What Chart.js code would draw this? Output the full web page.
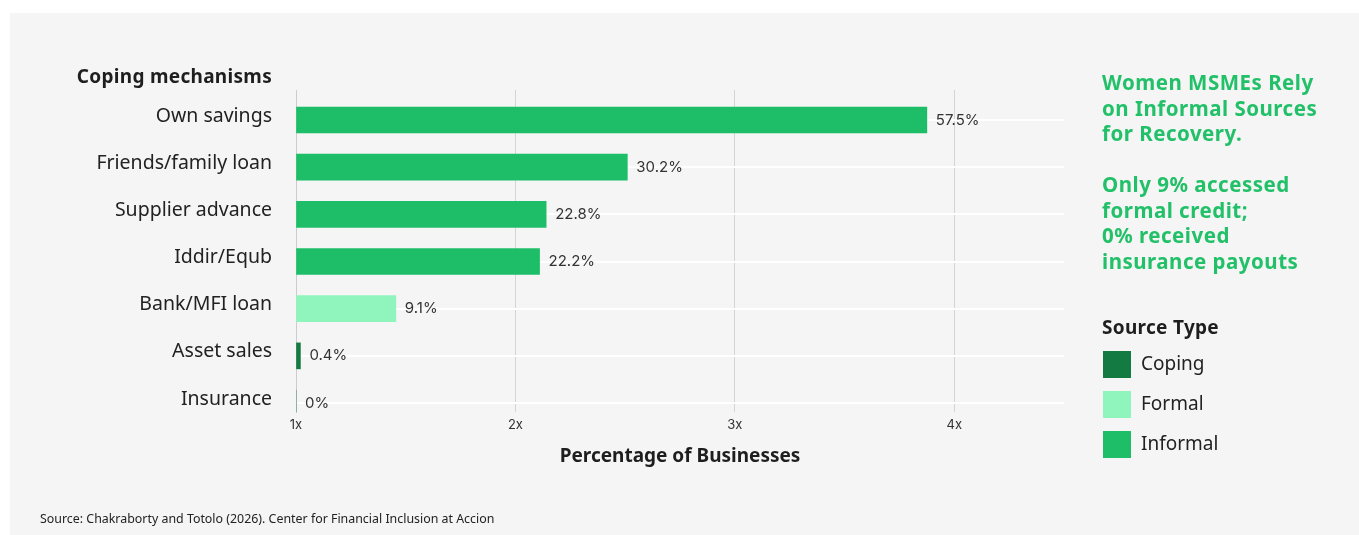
<!DOCTYPE html>
<html>
<head>
<meta charset="utf-8">
<script src="https://cdn.jsdelivr.net/npm/chart.js@4.4.1/dist/chart.umd.min.js"></script>
<style>
  html, body { margin: 0; padding: 0; background: #ffffff; }
  body { width: 1359px; height: 535px; position: relative; overflow: hidden; font-family: "Noto Sans", sans-serif; }
  #panel { position: absolute; left: 10px; top: 13px; width: 1349px; height: 522px; background: #f5f5f5; }
  #chart { position: absolute; left: 0; top: 0; }
  .abs { position: absolute; white-space: nowrap; }
  #ytitle { right: calc(1359px - 272px); top: 63px; font-weight: 700; font-size: 19px; letter-spacing: 0.3px; color: #1e1e1e; }
  #headline { left: 1102px; top: 70px; font-weight: 700; font-size: 20.5px; letter-spacing: 0.5px; line-height: 25.5px; color: #22c068; }
  #legtitle { left: 1102px; top: 314px; font-weight: 700; font-size: 19px; letter-spacing: 0.3px; color: #1e1e1e; }
  #legend { left: 1103px; top: 351px; }
  .li { position: relative; height: 40px; }
  .sw { position: absolute; left: 0; top: 0; width: 28px; height: 27px; }
  .lt { position: absolute; left: 38px; top: -1px; font-size: 19px; line-height: 27px; color: #222; }
  #source { left: 40px; top: 510px; font-size: 12.4px; color: #222; }
</style>
</head>
<body>
<div id="panel"></div>
<canvas id="chart" width="1359" height="535"></canvas>
<div id="ytitle" class="abs">Coping mechanisms</div>
<div id="headline" class="abs">Women MSMEs Rely<br>on Informal Sources<br>for Recovery.<br><br>Only 9% accessed<br>formal credit;<br>0% received<br>insurance payouts</div>
<div id="legtitle" class="abs">Source Type</div>
<div id="legend" class="abs"></div>
<div id="source" class="abs">Source: Chakraborty and Totolo (2026). Center for Financial Inclusion at Accion</div>
<script>
// ---- data ----
const categories = ["Own savings", "Friends/family loan", "Supplier advance", "Iddir/Equb", "Bank/MFI loan", "Asset sales", "Insurance"];
const values = [57.5, 30.2, 22.8, 22.2, 9.1, 0.4, 0];
const valueLabels = ["57.5%", "30.2%", "22.8%", "22.2%", "9.1%", "0.4%", "0%"];
const sourceTypes = ["Informal", "Informal", "Informal", "Informal", "Formal", "Coping", "Coping"];
const legendTypes = ["Coping", "Formal", "Informal"];
const xTickValues = [0, 20, 40, 60];
const xTickLabels = ["1x", "2x", "3x", "4x"];

// ---- styles ----
const typeColors = { Coping: "#137a42", Formal: "#90f5bd", Informal: "#1ebe68" };
const FONT = "'Noto Sans', sans-serif";
const VFONT = "Inter, sans-serif";

// legend (HTML)
const legendEl = document.getElementById('legend');
legendTypes.forEach(t => {
  const d = document.createElement('div');
  d.className = 'li';
  d.innerHTML = '<div class="sw" style="background:' + typeColors[t] + '"></div><div class="lt">' + t + '</div>';
  legendEl.appendChild(d);
});

const points = values.map((v, i) => ({ x: v, y: i }));

const valueLabelPlugin = {
  id: 'valueLabels',
  afterDatasetsDraw(chart) {
    const ctx = chart.ctx;
    const meta = chart.getDatasetMeta(0);
    ctx.save();
    ctx.font = "15px " + VFONT;
    ctx.fillStyle = "#333333";
    ctx.textAlign = "left";
    ctx.textBaseline = "middle";
    meta.data.forEach((el, i) => {
      ctx.fillText(valueLabels[i], el.x + 9, el.y);
    });
    ctx.restore();
  }
};

new Chart(document.getElementById('chart'), {
  type: 'bar',
  data: {
    datasets: [{
      data: points,
      backgroundColor: sourceTypes.map(t => typeColors[t]),
      barThickness: 26,
      borderWidth: 0
    }]
  },
  options: {
    indexAxis: 'y',
    responsive: false,
    animation: false,
    devicePixelRatio: 1,
    layout: { padding: { left: 0, top: 90, right: 295, bottom: 58 } },
    plugins: { legend: { display: false }, tooltip: { enabled: false } },
    scales: {
      x: {
        type: 'linear',
        min: 0,
        max: 70,
        afterFit(scale) { scale.height = 65; },
        afterBuildTicks(scale) { scale.ticks = xTickValues.map(v => ({ value: v })); },
        ticks: {
          padding: 5,
          color: "#333333",
          font: { family: VFONT, size: 13 },
          callback: (v) => { const k = xTickValues.indexOf(v); return k >= 0 ? xTickLabels[k] : ''; }
        },
        grid: { color: "#d4d4d4", lineWidth: 1, drawTicks: false },
        border: { display: false },
        title: {
          display: true,
          text: "Percentage of Businesses",
          color: "#1e1e1e",
          font: { family: FONT, size: 19, weight: '700' },
          padding: { top: 0, bottom: 9 }
        }
      },
      y: {
        type: 'linear',
        reverse: true,
        offset: false,
        min: -0.636,
        max: 6.19,
        afterFit(scale) { scale.width = 296; },
        afterBuildTicks(scale) { scale.ticks = categories.map((c, i) => ({ value: i })); },
        ticks: {
          padding: 24,
          labelOffset: -4,
          color: "#222222",
          font: { family: FONT, size: 19.5 },
          callback: (v) => categories[v] !== undefined ? categories[v] : ''
        },
        grid: { color: "#ffffff", lineWidth: 2, drawTicks: false, offset: false },
        border: { display: true, color: "#cccccc", width: 1 }
      }
    }
  },
  plugins: [valueLabelPlugin]
});
</script>
</body>
</html>
